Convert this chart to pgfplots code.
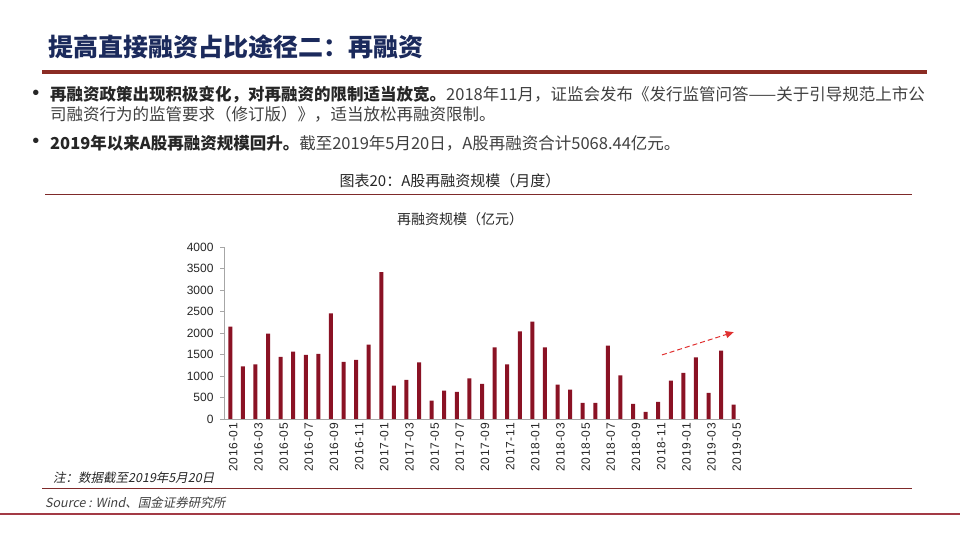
\documentclass[border=0pt]{standalone}
\usepackage{fontspec}
\usepackage{pgfplots}
\pgfplotsset{compat=1.18}
\usetikzlibrary{arrows.meta}
\setmainfont{Liberation Sans}
\newfontfamily\cjk{Noto Sans CJK SC}
\newfontfamily\cjki[FakeSlant=0.2]{Noto Sans CJK SC}
\newfontfamily\tickfont[LetterSpace=6]{Liberation Sans}
\definecolor{navy}{RGB}{27,42,92}
\definecolor{txt}{RGB}{64,64,64}
\definecolor{txtb}{RGB}{38,38,38}
\definecolor{linered}{RGB}{139,44,36}
\definecolor{line2}{RGB}{127,42,42}
\definecolor{botline}{RGB}{163,58,69}
\definecolor{barred}{RGB}{138,18,36}
\definecolor{arrred}{RGB}{224,48,48}
\definecolor{axgrey}{RGB}{166,166,166}
\begin{document}
\begin{tikzpicture}
\useasboundingbox (0pt,0pt) rectangle (960pt,540pt);
% title
\node[anchor=west,inner sep=0,text=navy,font=\cjk\bfseries\fontsize{25}{28}\selectfont] at (48pt,493pt) {提高直接融资占比途径二：再融资};
\draw[linered,line width=3.5pt] (42pt,468pt) -- (927pt,468pt);
% bullets
\node[anchor=center,inner sep=0,text=txtb,font=\fontsize{20}{22}\selectfont] at (36pt,445pt) {•};
\node[anchor=west,inner sep=0,text=txt,font=\cjk\fontsize{16.5}{19}\selectfont] at (50pt,445pt) {{\bfseries\color{txtb}再融资政策出现积极变化，对再融资的限制适当放宽。}2018年11月，证监会发布《发行监管问答——关于引导规范上市公};
\node[anchor=west,inner sep=0,text=txt,font=\cjk\fontsize{16.5}{19}\selectfont] at (50pt,426pt) {司融资行为的监管要求（修订版）》，适当放松再融资限制。};
\node[anchor=center,inner sep=0,text=txtb,font=\fontsize{20}{22}\selectfont] at (36pt,397pt) {•};
\node[anchor=west,inner sep=0,text=txt,font=\cjk\fontsize{16.5}{19}\selectfont] at (50pt,397pt) {{\bfseries\color{txtb}2019年以来A股再融资规模回升。}截至2019年5月20日，A股再融资合计5068.44亿元。};
% caption
\node[anchor=center,inner sep=0,text=txtb,font=\cjk\fontsize{15}{17}\selectfont] at (450pt,359pt) {图表20：A股再融资规模（月度）};
\draw[line2,line width=1pt] (45pt,345pt) -- (912pt,345pt);
\node[anchor=center,inner sep=0,text=txtb,font=\cjk\fontsize{14}{16}\selectfont] at (460pt,321pt) {再融资规模（亿元）};
% footer
\node[anchor=west,inner sep=0,text=txtb,font=\cjki\fontsize{12.5}{14}\selectfont] at (53pt,62pt) {注：数据截至2019年5月20日};
\draw[line2,line width=1pt] (42pt,51pt) -- (912pt,51pt);
\node[anchor=west,inner sep=0,text=txt,font=\cjki\fontsize{12.5}{14}\selectfont] at (45pt,37pt) {Source : Wind、国金证券研究所};
\draw[botline,line width=2.5pt] (0pt,26pt) -- (960pt,26pt);
% chart
\begin{axis}[
  at={(224pt,121pt)}, anchor=south west,
  scale only axis, width=516pt, height=172pt,
  xmin=-0.5, xmax=40.5, ymin=0, ymax=4000,
  axis x line*=bottom, axis y line*=left,
  axis line style={axgrey,line width=0.8pt},
  ytick={0,500,...,4000},
  tick align=outside,
  ytick style={axgrey,line width=0.8pt},
  major tick length=4pt,
  xtick style={draw=none},
  xtick={0,2,...,40},
  xticklabels={2016-01,2016-03,2016-05,2016-07,2016-09,2016-11,2017-01,2017-03,2017-05,2017-07,2017-09,2017-11,2018-01,2018-03,2018-05,2018-07,2018-09,2018-11,2019-01,2019-03,2019-05},
  xticklabel style={rotate=90,anchor=east,font=\tickfont\fontsize{12}{14}\selectfont,text=txtb,inner sep=0pt,yshift=-3pt},
  yticklabel style={font=\fontsize{12}{14}\selectfont,text=txtb,xshift=-3pt},
  /pgf/number format/assume math mode=true,
  scaled y ticks=false,
  yticklabel={\pgfmathprintnumber[1000 sep=]{\tick}},
  ybar, bar width=4pt, bar shift=0pt,
  clip=false,
]
\addplot[fill=barred,draw=none] coordinates {
(0,2150) (1,1222) (2,1268) (3,1984) (4,1447) (5,1564) (6,1494) (7,1517)
(8,2459) (9,1331) (10,1377) (11,1728) (12,3416) (13,778) (14,910) (15,1315)
(16,428) (17,661) (18,630) (19,942) (20,817) (21,1665) (22,1268) (23,2039)
(24,2265) (25,1665) (26,802) (27,682) (28,374) (29,374) (30,1704) (31,1012)
(32,350) (33,163) (34,397) (35,895) (36,1074) (37,1432) (38,607) (39,1588)
(40,335)};
\draw[arrred,line width=1pt,dash pattern=on 5pt off 3pt,-{Triangle[length=8pt,width=7pt]}] (axis cs:34.3,1490) -- (axis cs:40.0,2020);
\end{axis}
\end{tikzpicture}
\end{document}
